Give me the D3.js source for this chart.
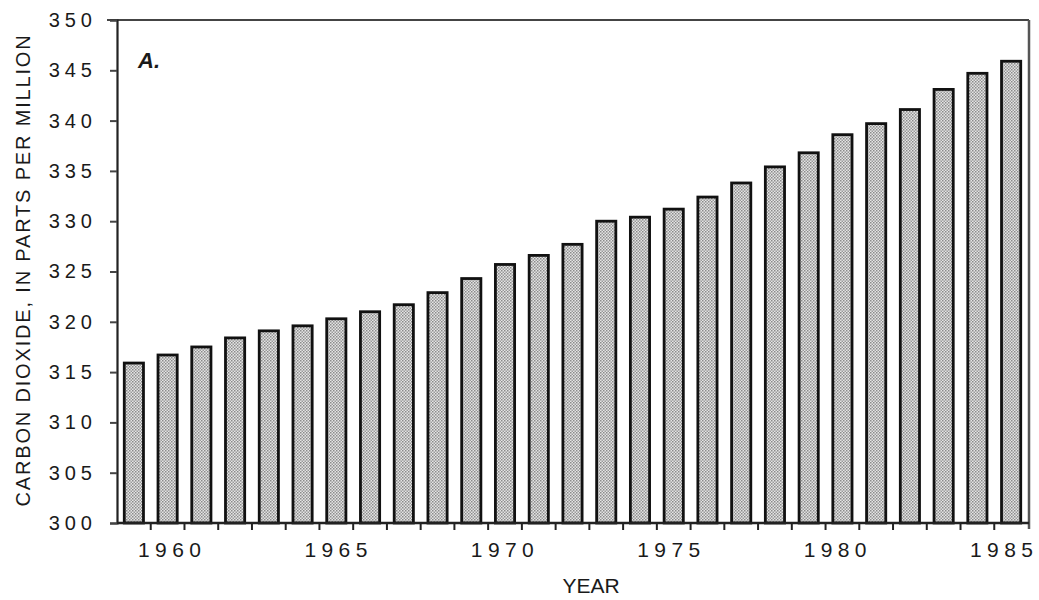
<!DOCTYPE html>
<html>
<head>
<meta charset="utf-8">
<script src="https://cdn.jsdelivr.net/npm/d3@7"></script>
<style>
  html, body { margin: 0; padding: 0; background: #fff; }
  svg { display: block; }
  text { font-family: "Liberation Sans", Arial, Helvetica, sans-serif; fill: #1a1a1a; }
</style>
</head>
<body>
<svg id="chart" width="1039" height="600"></svg>
<script>
// ---- data ----
const years = [1959,1960,1961,1962,1963,1964,1965,1966,1967,1968,1969,1970,1971,1972,
               1973,1974,1975,1976,1977,1978,1979,1980,1981,1982,1983,1984,1985];
const co2 = [315.9,316.7,317.5,318.4,319.1,319.6,320.3,321.0,321.7,322.9,324.3,325.7,326.6,327.7,
             330.0,330.4,331.2,332.4,333.8,335.4,336.8,338.6,339.7,341.1,343.1,344.7,345.9];
const yTicks = [300,305,310,315,320,325,330,335,340,345,350];
const xLabelYears = [1960,1965,1970,1975,1980,1985];
const yTitle = "CARBON DIOXIDE, IN PARTS PER MILLION";
const xTitle = "YEAR";
const panelLabel = "A.";

// ---- layout ----
const svg = d3.select("#chart");
const mLeft = 117, mRight = 1028, mTop = 20, mBottom = 523;

const x = d3.scaleBand().domain(years).range([mLeft, mRight]).paddingInner(0.36).paddingOuter(0.18);
const y = d3.scaleLinear().domain([300, 350]).range([mBottom, mTop]);
// the year labels of the original sit on a slightly tighter spacing than the bars
const xLab = d3.scaleLinear().domain([1960, 1985]).range([169.5, 1001.5]);

// stipple pattern
const defs = svg.append("defs");
const pat = defs.append("pattern").attr("id", "stip").attr("patternUnits", "userSpaceOnUse")
  .attr("width", 3).attr("height", 3);
pat.append("rect").attr("width", 3).attr("height", 3).attr("fill", "#e4e4e4");
pat.append("rect").attr("x", 0).attr("y", 0).attr("width", 1.5).attr("height", 1.5).attr("fill", "#8a8a8a");
pat.append("rect").attr("x", 1.5).attr("y", 1.5).attr("width", 1.5).attr("height", 1.5).attr("fill", "#9a9a9a");

// bars
const data = years.map((yr, i) => ({ yr, v: co2[i] }));
svg.append("g").selectAll("rect").data(data).join("rect")
  .attr("x", d => x(d.yr) + 1.2)
  .attr("y", d => y(d.v))
  .attr("width", x.bandwidth() - 2.4)
  .attr("height", d => y(300) - y(d.v))
  .attr("fill", "url(#stip)")
  .attr("stroke", "#111")
  .attr("stroke-width", 2.8);

// frame: top and right borders
svg.append("line").attr("x1", mLeft - 10).attr("x2", mRight + 1).attr("y1", mTop).attr("y2", mTop)
  .attr("stroke", "#444").attr("stroke-width", 2);
svg.append("line").attr("x1", mRight + 1).attr("x2", mRight + 1).attr("y1", mTop).attr("y2", mBottom + 6)
  .attr("stroke", "#555").attr("stroke-width", 2.5);

// y axis
const yAxis = d3.axisLeft(y).tickValues(yTicks).tickSize(7).tickPadding(10).tickFormat(d3.format("d"));
const gy = svg.append("g").attr("transform", `translate(${mLeft},0)`).call(yAxis);
gy.select(".domain").attr("stroke", "#222").attr("stroke-width", 2.2);
gy.selectAll(".tick line").attr("stroke", "#444").attr("stroke-width", 2);
gy.selectAll(".tick text").attr("font-size", 20).attr("letter-spacing", "5px")
  .attr("x", -20).attr("fill", "#1a1a1a").style("font-family", "'Liberation Sans', Arial, sans-serif");

// x axis baseline
svg.append("line").attr("x1", mLeft).attr("x2", mRight + 1).attr("y1", mBottom).attr("y2", mBottom)
  .attr("stroke", "#222").attr("stroke-width", 2.4);

// x ticks between bars
const gap = x.step() * x.paddingInner() / 2;
svg.append("g").selectAll("line").data(years.slice(1)).join("line")
  .attr("x1", d => x(d) - gap).attr("x2", d => x(d) - gap)
  .attr("y1", mBottom).attr("y2", mBottom + 7)
  .attr("stroke", "#222").attr("stroke-width", 2);

// x labels
svg.append("g").selectAll("text").data(xLabelYears).join("text")
  .attr("x", d => xLab(d) + 2.7)
  .attr("y", 557)
  .attr("text-anchor", "middle")
  .attr("font-size", 21)
  .attr("letter-spacing", "5.4px")
  .text(d => d);

// axis titles
svg.append("text")
  .attr("transform", `translate(30,270) rotate(-90)`)
  .attr("text-anchor", "middle")
  .attr("font-size", 20)
  .attr("letter-spacing", "1.83px")
  .text(yTitle);

svg.append("text")
  .attr("x", 591).attr("y", 593)
  .attr("text-anchor", "middle")
  .attr("font-size", 21)
  .text(xTitle);

// panel label
svg.append("text")
  .attr("x", 138).attr("y", 68)
  .attr("font-size", 22)
  .attr("font-weight", "bold")
  .attr("font-style", "italic")
  .text(panelLabel);
</script>
</body>
</html>
